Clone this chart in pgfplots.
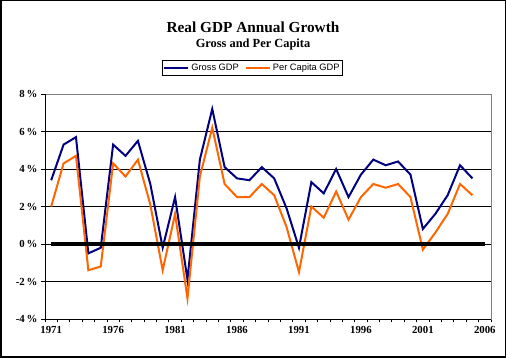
\documentclass[border=0pt]{standalone}
\usepackage{pgfplots}
\usepackage{pgfplotstable}
\pgfplotsset{compat=1.18}
\usepackage{fontspec}
\setmainfont{Liberation Serif}
\newfontfamily\arial{Liberation Sans}
\definecolor{gdpblue}{HTML}{000080}
\definecolor{gdporange}{HTML}{FF6600}

\pgfplotstableread{
year gross percap
1971 3.4 2.0
1972 5.3 4.3
1973 5.7 4.7
1974 -0.5 -1.4
1975 -0.2 -1.2
1976 5.3 4.3
1977 4.7 3.6
1978 5.5 4.5
1979 3.2 2.1
1980 -0.2 -1.4
1981 2.5 1.6
1982 -1.9 -2.9
1983 4.5 3.6
1984 7.2 6.2
1985 4.1 3.2
1986 3.5 2.5
1987 3.4 2.5
1988 4.1 3.2
1989 3.5 2.6
1990 1.9 0.9
1991 -0.2 -1.5
1992 3.3 2.0
1993 2.7 1.4
1994 4.0 2.8
1995 2.5 1.3
1996 3.7 2.5
1997 4.5 3.2
1998 4.2 3.0
1999 4.4 3.2
2000 3.7 2.5
2001 0.8 -0.3
2002 1.6 0.6
2003 2.6 1.6
2004 4.2 3.2
2005 3.5 2.6
}\gdpdata

\begin{document}
\begin{tikzpicture}[x=1pt,y=1pt]
\useasboundingbox (0,0) rectangle (506,358);
\draw[line width=1.5pt] (0.75,0.75) rectangle (505.25,357.25);
\node[font=\fontsize{15.3}{17}\selectfont\bfseries] at (253,331) {Real GDP Annual Growth};
\node[font=\fontsize{12.4}{14}\selectfont\bfseries] at (253,313.5) {Gross and Per Capita};
\begin{axis}[
  at={(45pt,39pt)}, anchor=south west,
  scale only axis, width=446pt, height=225pt,
  xmin=1970.5, xmax=2006.5, ymin=-4, ymax=8,
  xtick={1971,1976,...,2006},
  minor xtick={1970.5,1971.5,...,2006.5},
  major x tick style={draw=none},
  ytick={-4,-2,...,8},
  yticklabel={\pgfmathprintnumber{\tick}\,\%},
  /pgf/number format/1000 sep={},
  /pgf/number format/assume math mode=true,
  tick label style={font=\fontsize{10.8}{12}\selectfont\bfseries},
  tick align=outside,
  xtick pos=bottom, ytick pos=left,
  major tick length=4pt, minor tick length=3.5pt,
  tick style={black, line width=0.8pt},
  ymajorgrids,
  grid style={black, line width=0.8pt},
  axis line style={draw=gray, line width=0.8pt},
  legend style={
    at={(0.4652,1.1156)}, anchor=center,
    font=\arial\fontsize{9.3}{11}\selectfont,
    draw=black, line width=0.8pt, inner sep=1.2pt,
    legend columns=2,
    /tikz/every even column/.append style={column sep=4pt},
  },
  legend image code/.code={\draw[#1] (0pt,0pt) -- (24pt,0pt);},
  after end axis/.code={
    \draw[gray, line width=0.8pt] (rel axis cs:0,1) -- (rel axis cs:1,1) -- (rel axis cs:1,0);
    \draw[black, line width=0.8pt] (rel axis cs:0,1) -- (rel axis cs:0,0) -- (rel axis cs:1,0);
  },
]
\addplot[gdpblue, line width=2pt] table[x=year, y=gross] {\gdpdata};
\addlegendentry{Gross GDP}
\addplot[gdporange, line width=2pt] table[x=year, y=percap] {\gdpdata};
\addlegendentry{Per Capita GDP}
\addplot[black, line width=3.5pt, forget plot] coordinates {(1971,0) (2006,0)};
\end{axis}
\end{tikzpicture}
\end{document}
